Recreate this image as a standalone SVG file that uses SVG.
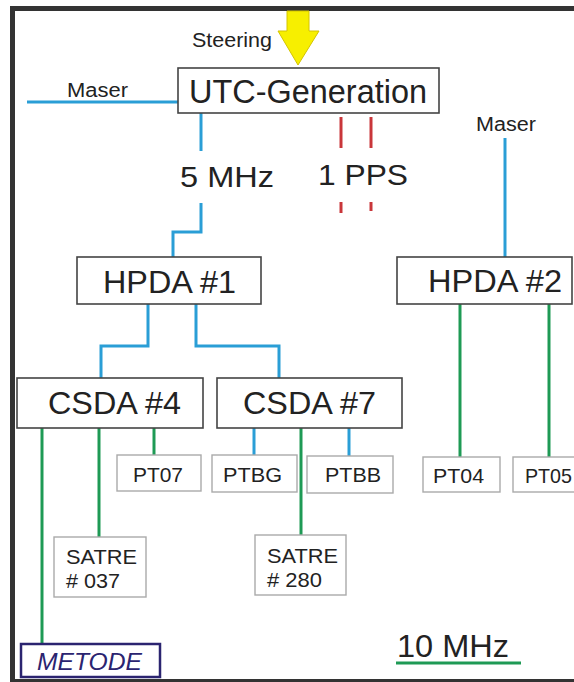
<svg xmlns="http://www.w3.org/2000/svg" width="574" height="682" viewBox="0 0 574 682">
  <style>
    text { font-family: "Liberation Sans", Arial, sans-serif; fill: #222; }
    .big { font-size: 32px; }
    .mid { font-size: 30px; }
    .small { font-size: 20px; }
    .pt { font-size: 21px; }
    .box { fill: #fff; stroke: #444; stroke-width: 1.6; }
    .lbox { fill: #fff; stroke: #aaa; stroke-width: 1.4; }
    .blue { stroke: #2a9ed6; stroke-width: 3; fill: none; }
    .red { stroke: #c9363a; stroke-width: 3; fill: none; }
    .green { stroke: #1e9a55; stroke-width: 3; fill: none; }
  </style>

  <!-- page -->
  <rect x="0" y="0" width="574" height="682" fill="#fff"/>
  <g id="frame" fill="#333">
    <rect x="10" y="6" width="564" height="5"/>
    <rect x="10" y="6" width="5" height="676"/>
    <rect x="10" y="679" width="564" height="3"/>
  </g>

  <!-- connectors -->
  <g id="connectors">
    <line class="blue" x1="27" y1="102" x2="178" y2="102"/>
    <line class="blue" x1="201" y1="113" x2="201" y2="151"/>
    <polyline class="blue" points="201,203 201,232 173,232 173,258"/>
    <polyline class="blue" points="148,304 148,346 101,346 101,378"/>
    <polyline class="blue" points="196,304 196,346 279,346 279,378"/>
    <line class="blue" x1="505" y1="138" x2="505" y2="257"/>
    <line class="blue" x1="254" y1="428" x2="254" y2="455"/>
    <line class="blue" x1="349" y1="428" x2="349" y2="456"/>

    <line class="red" x1="341" y1="117" x2="341" y2="148"/>
    <line class="red" x1="371" y1="117" x2="371" y2="148"/>
    <line class="red" x1="341" y1="202" x2="341" y2="213"/>
    <line class="red" x1="371" y1="202" x2="371" y2="211"/>

    <line class="green" x1="42" y1="428" x2="42" y2="644"/>
    <line class="green" x1="99" y1="428" x2="99" y2="537"/>
    <line class="green" x1="154" y1="428" x2="154" y2="455"/>
    <line class="green" x1="301" y1="428" x2="301" y2="535"/>
    <line class="green" x1="460" y1="304" x2="460" y2="457"/>
    <line class="green" x1="549" y1="304" x2="549" y2="457"/>
    <line class="green" x1="396" y1="663" x2="521" y2="663"/>
  </g>

  <!-- steering input -->
  <g id="steering">
    <polygon points="287,11 309,11 309,31 319,31 298,65 278,31 287,31" fill="#f7ef00" stroke="#d4c400" stroke-width="1"/>
    <text class="small" x="192" y="47" textLength="80" lengthAdjust="spacingAndGlyphs">Steering</text>
  </g>

  <g id="maser-left">
    <text class="small" x="67" y="97" textLength="61" lengthAdjust="spacingAndGlyphs">Maser</text>
  </g>
  <g id="maser-right">
    <text class="small" x="476" y="131" textLength="60" lengthAdjust="spacingAndGlyphs">Maser</text>
  </g>

  <g id="utc-generation">
    <rect class="box" x="178" y="68" width="261" height="45"/>
    <text x="189" y="103" font-size="34" textLength="238" lengthAdjust="spacingAndGlyphs">UTC-Generation</text>
  </g>

  <g id="label-5mhz">
    <text class="mid" x="180" y="187" textLength="94" lengthAdjust="spacingAndGlyphs">5 MHz</text>
  </g>
  <g id="label-1pps">
    <text class="mid" x="318" y="185" textLength="90" lengthAdjust="spacingAndGlyphs">1 PPS</text>
  </g>

  <g id="hpda1">
    <rect class="box" x="77" y="257" width="184" height="47"/>
    <text class="big" x="103" y="293" textLength="133" lengthAdjust="spacingAndGlyphs">HPDA #1</text>
  </g>
  <g id="hpda2">
    <rect class="box" x="397" y="257" width="175" height="47"/>
    <text class="big" x="428" y="292" textLength="134" lengthAdjust="spacingAndGlyphs">HPDA #2</text>
  </g>

  <g id="csda4">
    <rect class="box" x="17" y="378" width="186" height="50"/>
    <text class="big" x="48" y="414" textLength="133" lengthAdjust="spacingAndGlyphs">CSDA #4</text>
  </g>
  <g id="csda7">
    <rect class="box" x="217" y="378" width="185" height="50"/>
    <text class="big" x="243" y="414" textLength="133" lengthAdjust="spacingAndGlyphs">CSDA #7</text>
  </g>

  <g id="pt07">
    <rect class="lbox" x="117" y="455" width="84" height="36"/>
    <text class="pt" x="133" y="482" textLength="50" lengthAdjust="spacingAndGlyphs">PT07</text>
  </g>
  <g id="ptbg">
    <rect class="lbox" x="212" y="455" width="85" height="37"/>
    <text class="pt" x="223" y="482" textLength="59" lengthAdjust="spacingAndGlyphs">PTBG</text>
  </g>
  <g id="ptbb">
    <rect class="lbox" x="307" y="456" width="86" height="37"/>
    <text class="pt" x="325" y="482" textLength="56" lengthAdjust="spacingAndGlyphs">PTBB</text>
  </g>
  <g id="pt04">
    <rect class="lbox" x="423" y="457" width="77" height="35"/>
    <text class="pt" x="433" y="483" textLength="51" lengthAdjust="spacingAndGlyphs">PT04</text>
  </g>
  <g id="pt05">
    <rect class="lbox" x="513" y="457" width="70" height="35"/>
    <text class="pt" x="525" y="483" textLength="47" lengthAdjust="spacingAndGlyphs">PT05</text>
  </g>

  <g id="satre037">
    <rect class="lbox" x="54" y="537" width="92" height="60"/>
    <text class="pt" x="66" y="564" textLength="71" lengthAdjust="spacingAndGlyphs">SATRE</text>
    <text class="pt" x="66" y="588" textLength="54" lengthAdjust="spacingAndGlyphs"># 037</text>
  </g>
  <g id="satre280">
    <rect class="lbox" x="255" y="535" width="91" height="60"/>
    <text class="pt" x="267" y="563" textLength="71" lengthAdjust="spacingAndGlyphs">SATRE</text>
    <text class="pt" x="267" y="587" textLength="55" lengthAdjust="spacingAndGlyphs"># 280</text>
  </g>

  <g id="metode">
    <rect x="21" y="644" width="139" height="33" fill="#fff" stroke="#2b2470" stroke-width="2.5"/>
    <text x="37" y="670" font-size="24" font-style="italic" style="fill:#2b2470" textLength="105" lengthAdjust="spacingAndGlyphs">METODE</text>
  </g>

  <g id="legend-10mhz">
    <text x="397" y="657" font-size="31" textLength="112" lengthAdjust="spacingAndGlyphs">10 MHz</text>
  </g>
</svg>
